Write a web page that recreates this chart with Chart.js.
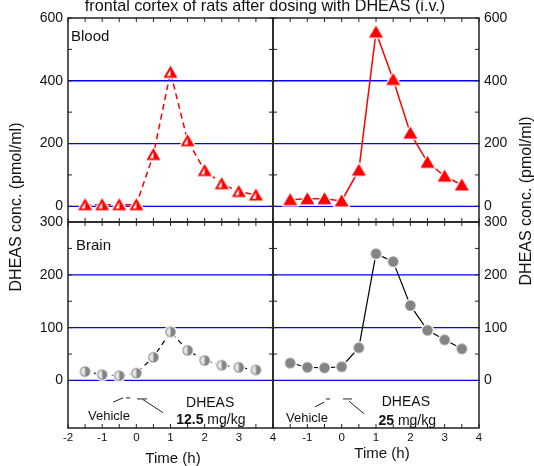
<!DOCTYPE html>
<html lang="en">
<head>
    <meta charset="UTF-8">
    <title>DHEAS in blood and brain</title>
    <style>
        body {
            margin: 0;
            background: #fff;
        }
        #wrap {
            position: relative;
            width: 534px;
            height: 466px;
            overflow: hidden;
        }
        #wrap canvas {
            position: absolute;
            left: 0;
            top: 0;
        }
    </style>
</head>
<body>
    <div id="wrap">
        <canvas id="tl" width="534" height="466"></canvas>
        <canvas id="tr" width="534" height="466"></canvas>
        <canvas id="bl" width="534" height="466"></canvas>
        <canvas id="br" width="534" height="466"></canvas>
    </div>

    <script src="https://cdn.jsdelivr.net/npm/chart.js"></script>
    <script>
        // sampling times (h)
        const times = [-1.5, -1, -0.5, 0, 0.5, 1, 1.5, 2, 2.5, 3, 3.5];
        // DHEAS concentration (pmol/ml)
        const blood12 = [5, 5, 5, 5, 165, 427, 209, 114, 72, 47, 36];
        const blood25 = [21, 24, 24, 17, 115, 555, 404, 233, 140, 96, 68];
        const brain12 = [17, 11, 9, 14, 44, 92, 57, 38, 29, 25, 20];
        const brain25 = [33, 25, 24, 26, 62, 240, 225, 142, 95, 77, 60];
        // tick labels
        const xTicks = [-2, -1, 0, 1, 2, 3, 4];
        const xTicksRight = [-1, 0, 1, 2, 3, 4];
        const bloodTicks = [0, 200, 400, 600];
        const brainTicks = [0, 100, 200, 300];

        const FONT = '"Liberation Sans", Arial, sans-serif';

        // marker images
        function makeTriangle(half) {
            const c = document.createElement('canvas');
            c.width = 17; c.height = 16;
            const g = c.getContext('2d');
            const tri = (ax, ay, bx, by, cx, cy) => {
                g.beginPath(); g.moveTo(ax, ay); g.lineTo(bx, by); g.lineTo(cx, cy); g.closePath();
            };
            tri(8.5, 1.5, 15.5, 13.5, 1.5, 13.5);
            g.lineWidth = 2.5; g.strokeStyle = '#fff'; g.stroke();
            g.fillStyle = '#ff0000'; g.fill();
            if (half) {
                g.fillStyle = '#fff';
                tri(8.5, 5.5, 8.5, 11.8, 4.8, 11.8);
                g.fill();
            }
            return c;
        }

        function makeCircle(half) {
            const c = document.createElement('canvas');
            c.width = 15; c.height = 15;
            const g = c.getContext('2d');
            g.beginPath(); g.arc(7.5, 7.5, 6.6, 0, Math.PI * 2);
            g.fillStyle = '#fff'; g.fill();
            g.beginPath(); g.arc(7.5, 7.5, 5.2, 0, Math.PI * 2);
            g.fillStyle = '#848484'; g.fill();
            if (half) {
                g.beginPath(); g.arc(7.5, 7.5, 4.2, Math.PI / 2, Math.PI * 1.5);
                g.closePath();
                g.fillStyle = '#e6e6e6'; g.fill();
            }
            return c;
        }

        function points(vals) {
            return times.map((t, i) => ({ x: t, y: vals[i] }));
        }

        function line(ctx, x1, y1, x2, y2) {
            ctx.beginPath(); ctx.moveTo(x1, y1); ctx.lineTo(x2, y2); ctx.stroke();
        }

        const panelPlugin = {
            id: 'panel',
            beforeDatasetsDraw(chart, args, o) {
                const { ctx, chartArea: a, scales: { y } } = chart;
                ctx.save();
                ctx.strokeStyle = '#0000ff';
                ctx.lineWidth = 1.3;
                o.grid.forEach(v => {
                    const py = y.getPixelForValue(v);
                    line(ctx, a.left, py, a.right + 1, py);
                });
                ctx.restore();
            },
            afterDraw(chart, args, o) {
                const { ctx, chartArea: a, scales: { x, y } } = chart;
                ctx.save();
                ctx.strokeStyle = '#222';
                ctx.lineWidth = 1.5;
                ctx.strokeRect(a.left, a.top, a.right - a.left, a.bottom - a.top);

                // inward ticks
                ctx.lineWidth = 1;
                for (let v = x.min; v <= x.max + 1e-9; v += 0.5) {
                    const px = x.getPixelForValue(v);
                    line(ctx, px, a.top, px, a.top + 4);
                    line(ctx, px, a.bottom, px, a.bottom - 4);
                }
                for (let v = 0; v <= y.max + 1e-9; v += o.minorY) {
                    const py = y.getPixelForValue(v);
                    line(ctx, a.left, py, a.left + 4, py);
                    line(ctx, a.right, py, a.right - 4, py);
                }

                ctx.fillStyle = '#111';
                // y tick labels
                ctx.font = '14px ' + FONT;
                ctx.textBaseline = 'middle';
                o.yLabels.forEach(v => {
                    const py = y.getPixelForValue(v);
                    if (o.ySide === 'left') {
                        ctx.textAlign = 'right';
                        ctx.fillText(String(v), a.left - 5, py);
                    } else {
                        ctx.textAlign = 'left';
                        ctx.fillText(String(v), a.right + 5, py);
                    }
                });
                // x tick labels
                if (o.xLabels) {
                    ctx.font = '11.5px ' + FONT;
                    ctx.textAlign = 'center';
                    o.xLabels.forEach(v => {
                        ctx.fillText(String(v), x.getPixelForValue(v), a.bottom + 10);
                    });
                }
                // panel name
                if (o.name) {
                    ctx.font = '15px ' + FONT;
                    ctx.textAlign = 'left';
                    ctx.textBaseline = 'alphabetic';
                    ctx.fillText(o.name.text, o.name.x, o.name.y);
                }
                // dose legend
                (o.marks || []).forEach(m => {
                    line(ctx, x.getPixelForValue(m[0]), y.getPixelForValue(m[1]),
                        x.getPixelForValue(m[2]), y.getPixelForValue(m[3]));
                });
                ctx.textBaseline = 'alphabetic';
                (o.texts || []).forEach(t => {
                    const parts = t.parts;
                    const fonts = parts.map(p => (p.bold ? 'bold ' : '') + t.size + 'px ' + FONT);
                    const widths = parts.map((p, i) => { ctx.font = fonts[i]; return ctx.measureText(p.s).width; });
                    let px = x.getPixelForValue(t.x) - widths.reduce((s, w) => s + w, 0) / 2;
                    const py = y.getPixelForValue(t.y);
                    ctx.textAlign = 'left';
                    parts.forEach((p, i) => {
                        ctx.font = fonts[i];
                        ctx.fillText(p.s, px, py);
                        px += widths[i];
                    });
                });
                // page texts
                if (o.page) {
                    ctx.textAlign = 'center';
                    ctx.font = '16.2px ' + FONT;
                    ctx.fillText('frontal cortex of rats after dosing with DHEAS (i.v.)', 265, 11);
                    ctx.font = '15px ' + FONT;
                    ctx.fillText('Time (h)', 173, 463);
                    ctx.fillText('Time (h)', 382, 458);
                    ctx.font = '16px ' + FONT;
                    ctx.textBaseline = 'middle';
                    [[17, 207], [527, 201]].forEach(([cx, cy]) => {
                        ctx.save();
                        ctx.translate(cx, cy);
                        ctx.rotate(-Math.PI / 2);
                        ctx.fillText('DHEAS conc. (pmol/ml)', 0, 0);
                        ctx.restore();
                    });
                }
                ctx.restore();
            }
        };

        function makePanel(id, opts) {
            const ds = {
                data: points(opts.values),
                borderColor: opts.color,
                borderWidth: opts.lineWidth,
                borderDash: opts.dash || [],
                pointStyle: opts.marker,
                pointRadius: 7,
                pointHoverRadius: 7,
                tension: 0,
                clip: false
            };
            return new Chart(document.getElementById(id), {
                type: 'line',
                data: { datasets: [ds] },
                options: {
                    responsive: false,
                    animation: false,
                    events: [],
                    layout: { padding: opts.padding },
                    scales: {
                        x: { type: 'linear', min: -2, max: 4, display: false },
                        y: { type: 'linear', min: opts.yMin, max: opts.yMax, display: false }
                    },
                    plugins: {
                        legend: { display: false },
                        tooltip: { enabled: false },
                        panel: opts.panel
                    }
                },
                plugins: [panelPlugin]
            });
        }

        // plot areas: left 68..273, right 273..479, top 18..222, bottom 222..428
        makePanel('tl', {
            values: blood12, color: '#ff0000', lineWidth: 1.5, dash: [6, 4],
            marker: makeTriangle(true), yMin: -50, yMax: 600,
            padding: { left: 68, right: 534 - 273, top: 18, bottom: 466 - 222 },
            panel: {
                grid: [0, 200, 400], minorY: 100, yLabels: bloodTicks, ySide: 'left',
                name: { text: 'Blood', x: 71, y: 41 }, page: true
            }
        });
        makePanel('tr', {
            values: blood25, color: '#ff0000', lineWidth: 1.5,
            marker: makeTriangle(false), yMin: -50, yMax: 600,
            padding: { left: 273, right: 534 - 479, top: 18, bottom: 466 - 222 },
            panel: { grid: [0, 200, 400], minorY: 100, yLabels: bloodTicks, ySide: 'right' }
        });
        makePanel('bl', {
            values: brain12, color: '#000', lineWidth: 1.2, dash: [5, 4],
            marker: makeCircle(true), yMin: -90, yMax: 300,
            padding: { left: 68, right: 534 - 273, top: 222, bottom: 466 - 428 },
            panel: {
                grid: [0, 100, 200], minorY: 50, yLabels: brainTicks, ySide: 'left',
                xLabels: xTicks, name: { text: 'Brain', x: 76, y: 250 },
                marks: [[-0.68, -41, -0.39, -33], [-0.30, -33, -0.18, -33],
                        [0.02, -35, 0.31, -35], [0.19, -36, 0.78, -61]],
                texts: [
                    { x: -0.8, y: -75, size: 13, parts: [{ s: 'Vehicle' }] },
                    { x: 2.16, y: -50, size: 14, parts: [{ s: 'DHEAS' }] },
                    { x: 2.18, y: -82, size: 14, parts: [{ s: '12.5', bold: true }, { s: ' mg/kg' }] }
                ]
            }
        });
        makePanel('br', {
            values: brain25, color: '#000', lineWidth: 1.2,
            marker: makeCircle(false), yMin: -90, yMax: 300,
            padding: { left: 273, right: 534 - 479, top: 222, bottom: 466 - 428 },
            panel: {
                grid: [0, 100, 200], minorY: 50, yLabels: brainTicks, ySide: 'right',
                xLabels: xTicksRight,
                marks: [[-0.78, -50, -0.51, -41], [-0.46, -35, -0.34, -35],
                        [0.04, -35, 0.30, -35], [0.21, -39, 0.65, -63]],
                texts: [
                    { x: -1.01, y: -79, size: 13, parts: [{ s: 'Vehicle' }] },
                    { x: 1.87, y: -48, size: 14, parts: [{ s: 'DHEAS' }] },
                    { x: 1.91, y: -84, size: 14, parts: [{ s: '25', bold: true }, { s: ' mg/kg' }] }
                ]
            }
        });
    </script>
</body>
</html>
